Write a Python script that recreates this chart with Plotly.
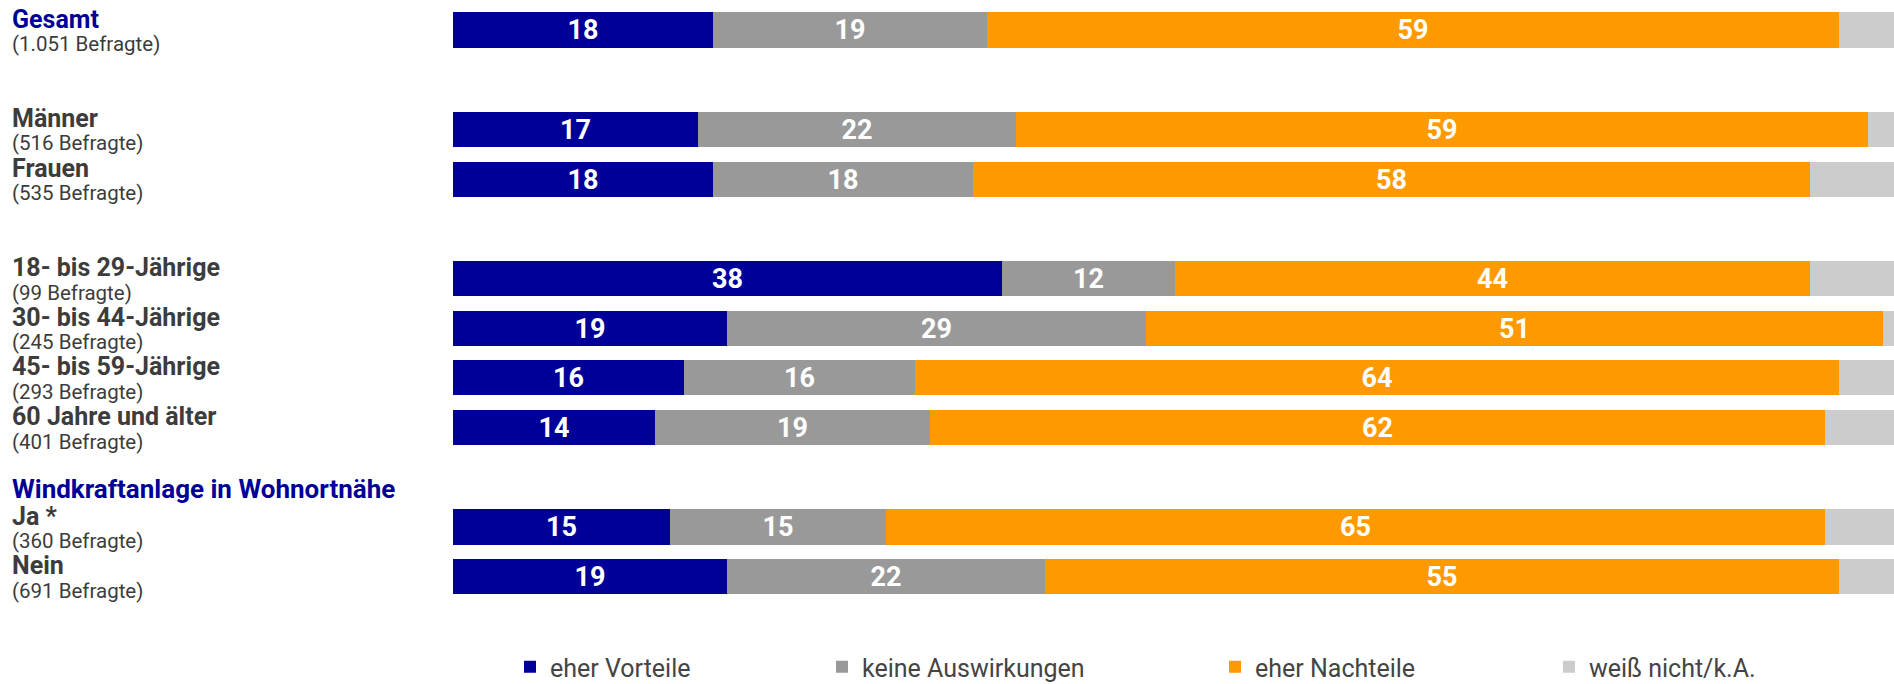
import plotly.graph_objects as go

# ---- data ----
groups = ["Gesamt", "Männer", "Frauen", "18- bis 29-Jährige", "30- bis 44-Jährige",
          "45- bis 59-Jährige", "60 Jahre und älter", "Ja *", "Nein"]
respondents = ["(1.051 Befragte)", "(516 Befragte)", "(535 Befragte)", "(99 Befragte)",
               "(245 Befragte)", "(293 Befragte)", "(401 Befragte)", "(360 Befragte)",
               "(691 Befragte)"]
slots = [0, 2, 3, 5, 6, 7, 8, 10, 11]
section_header = "Windkraftanlage in Wohnortnähe"
section_slot = 9

series_names = ["eher Vorteile", "keine Auswirkungen", "eher Nachteile", "weiß nicht/k.A."]
eher_vorteile = [18, 17, 18, 38, 19, 16, 14, 15, 19]
keine_auswirkungen = [19, 22, 18, 12, 29, 16, 19, 15, 22]
eher_nachteile = [59, 59, 58, 44, 51, 64, 62, 65, 55]
weiss_nicht = [4, 2, 6, 6, 1, 4, 5, 5, 4]

colors = ["#000099", "#999999", "#FF9900", "#CCCCCC"]
BLUE = "#000099"
DARK = "#3c3c3c"
FONT = "Roboto"

W, H = 1894, 684
ML, MR, MT, MB = 453, 0, 0, 64
pitch = 49.7
first_center = 30
plot_h = H - MT - MB
y_top = -(first_center - MT) / pitch
y_bot = (plot_h - (first_center - MT)) / pitch

fig = go.Figure()
all_series = [eher_vorteile, keine_auswirkungen, eher_nachteile, weiss_nicht]
legend_ids = ["legend", "legend2", "legend3", "legend4"]
for i, (name, vals) in enumerate(zip(series_names, all_series)):
    show_text = i < 3
    fig.add_trace(go.Bar(
        x=vals, y=slots, orientation="h", name=name,
        marker=dict(color=colors[i], line=dict(width=0)),
        width=0.705,
        text=[str(v) for v in vals] if show_text else None,
        textposition="inside" if show_text else "none",
        insidetextanchor="middle",
        textangle=0,
        constraintext="none",
        textfont=dict(family=FONT, size=27, color="white", weight="bold"),
        legend=legend_ids[i],
        hoverinfo="x+name",
    ))

annos = []
x_label = (10 - ML) / (W - ML - MR)
for g, r, s in zip(groups, respondents, slots):
    col = BLUE if g == "Gesamt" else DARK
    annos.append(dict(x=x_label, xref="paper", y=s, yref="y", text="<b>%s</b>" % g,
                      showarrow=False, xanchor="left", yanchor="middle", yshift=11,
                      font=dict(family=FONT, size=25, color=col)))
    annos.append(dict(x=x_label, xref="paper", y=s, yref="y", text=r,
                      showarrow=False, xanchor="left", yanchor="middle", yshift=-14,
                      font=dict(family=FONT, size=20.5, color=DARK)))
annos.append(dict(x=x_label, xref="paper", y=section_slot, yref="y",
                  text="<b>%s</b>" % section_header,
                  showarrow=False, xanchor="left", yanchor="middle", yshift=-12,
                  font=dict(family=FONT, size=26, color=BLUE)))

legend_lefts = [510, 822, 1215, 1549]
legend_cfg = {}
for lid, lx in zip(legend_ids, legend_lefts):
    legend_cfg[lid] = dict(
        xref="container", yref="container", x=lx / W, y=1 - 667 / H,
        xanchor="left", yanchor="middle", orientation="h",
        bgcolor="rgba(0,0,0,0)", borderwidth=0,
        font=dict(family=FONT, size=25, color="#444444"),
    )

fig.update_layout(
    width=W, height=H,
    barmode="stack",
    bargap=0,
    margin=dict(l=ML, r=MR, t=MT, b=MB, pad=0),
    plot_bgcolor="white", paper_bgcolor="white",
    font=dict(family=FONT),
    xaxis=dict(range=[0, 100 * (W - ML - MR) / 1444], visible=False, fixedrange=True),
    yaxis=dict(range=[y_bot, y_top], visible=False, fixedrange=True),
    annotations=annos,
    showlegend=True,
    **legend_cfg,
)

fig.write_html(
    "out.html",
    config={"displayModeBar": False},
    post_script="document.body.style.margin='0';document.body.style.overflow='hidden';",
)
